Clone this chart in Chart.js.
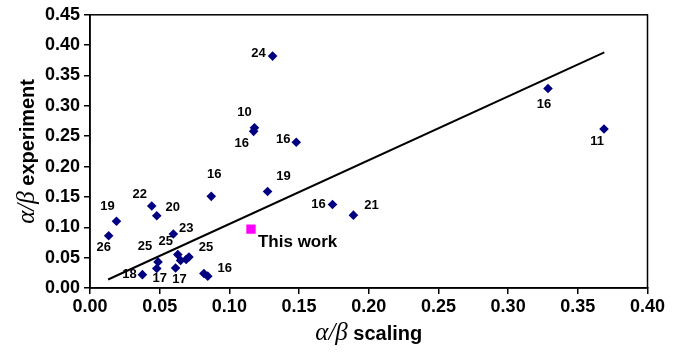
<!DOCTYPE html>
<html><head><meta charset="utf-8">
<script src="https://cdn.jsdelivr.net/npm/chart.js@4/dist/chart.umd.min.js"></script>
<style>html,body{margin:0;padding:0;background:#fff;overflow:hidden}#wrap{width:684px;height:352px}</style>
</head><body><div id="wrap"><canvas id="c" width="684" height="352"></canvas></div>
<script>
// Literature values (alpha/beta scaling vs experiment) with reference numbers
const xScaling = [0.0134, 0.019, 0.0443, 0.0479, 0.087, 0.0598, 0.0488, 0.063, 0.0376, 0.0479, 0.0614, 0.071, 0.0845, 0.065, 0.069, 0.0817, 0.118, 0.1174, 0.148, 0.1274, 0.131, 0.174, 0.189, 0.3286, 0.3688];
const yExperiment = [0.086, 0.110, 0.135, 0.119, 0.151, 0.089, 0.043, 0.055, 0.022, 0.032, 0.033, 0.051, 0.0195, 0.0455, 0.047, 0.024, 0.264, 0.258, 0.240, 0.159, 0.382, 0.1375, 0.120, 0.3286, 0.262];
const refLabels = ['26','19','22','20','16','23','25','25','18','17','17','25','16','','','','10','16','16','19','24','16','21','16','11'];
// label placement relative to marker (px)
const labelDx = [-5,-9,-12,16,3,13,-13,-12,-13,3,4,17,17,0,0,0,-10,-12,-13,16,-14,-14,18,-4,-7];
const labelDy = [12,-15,-12,-8,-22,-6,-15,-13,0,10,11,-10,-8,0,0,0,-15,12,-3,-15,-3,0,-10,16,12];
// This work
const thisWorkX = [0.1155];
const thisWorkY = [0.097];
const thisWorkLabel = 'This work';
// Trend line
const lineX = [0.013, 0.369];
const lineY = [0.014, 0.388];
// Axes
const xTicks = [0, 0.05, 0.10, 0.15, 0.20, 0.25, 0.30, 0.35, 0.40];
const yTicks = [0, 0.05, 0.10, 0.15, 0.20, 0.25, 0.30, 0.35, 0.40, 0.45];
const xTitleSym = 'α/β', xTitleWord = ' scaling';
const yTitleSym = 'α/β', yTitleWord = ' experiment';

const pts = xScaling.map((x, i) => ({x, y: yExperiment[i]}));
const twPts = thisWorkX.map((x, i) => ({x, y: thisWorkY[i]}));
const linePts = lineX.map((x, i) => ({x, y: lineY[i]}));

const decor = {
  id: 'decor',
  afterDatasetsDraw(chart) {
    const ctx = chart.ctx, a = chart.chartArea, sx = chart.scales.x, sy = chart.scales.y;
    ctx.save();
    ctx.strokeStyle = '#000'; ctx.lineWidth = 1.5;
    ctx.strokeRect(a.left, a.top, a.right - a.left, a.bottom - a.top);
    // point labels
    ctx.fillStyle = '#000';
    ctx.font = 'bold 13px "Liberation Sans", Arial, sans-serif';
    ctx.textAlign = 'center'; ctx.textBaseline = 'middle';
    refLabels.forEach((t, i) => {
      if (!t) return;
      const px = sx.getPixelForValue(xScaling[i]), py = sy.getPixelForValue(yExperiment[i]);
      ctx.fillText(t, px + labelDx[i], py + labelDy[i]);
    });
    ctx.font = 'bold 17px "Liberation Sans", Arial, sans-serif';
    ctx.textAlign = 'left';
    ctx.fillText(thisWorkLabel, sx.getPixelForValue(thisWorkX[0]) + 7, sy.getPixelForValue(thisWorkY[0]) + 13);
    // axis titles
    const symFont = 'italic 25px "Liberation Serif", "Times New Roman", serif';
    const wordFont = 'bold 20px "Liberation Sans", Arial, sans-serif';
    function drawTitle(sym, word, cx, cy, rot) {
      ctx.save();
      ctx.translate(cx, cy); ctx.rotate(rot);
      ctx.font = symFont; const w1 = ctx.measureText(sym).width;
      ctx.font = wordFont; const w2 = ctx.measureText(word).width;
      const x0 = -(w1 + w2) / 2;
      ctx.textAlign = 'left'; ctx.textBaseline = 'alphabetic';
      ctx.font = symFont; ctx.fillText(sym, x0, 0);
      ctx.font = wordFont; ctx.fillText(word, x0 + w1, 0);
      ctx.restore();
    }
    drawTitle(xTitleSym, xTitleWord, (a.left + a.right) / 2, 340, 0);
    drawTitle(yTitleSym, yTitleWord, 34, (a.top + a.bottom) / 2, -Math.PI / 2);
    ctx.restore();
  }
};

const tickFont = {family: '"Liberation Sans", Arial, sans-serif', size: 18, weight: 'bold'};
new Chart(document.getElementById('c'), {
  type: 'scatter',
  data: {
    datasets: [
      {type: 'line', data: linePts, borderColor: '#000', borderWidth: 2, pointRadius: 0, fill: false, order: 3},
      {data: pts, pointStyle: 'rectRot', pointRadius: 4.8, pointBackgroundColor: '#000080', pointBorderWidth: 0, order: 2},
      {data: twPts, pointStyle: 'rect', pointRadius: 6.6, pointBackgroundColor: '#FF00FF', pointBorderWidth: 0, order: 1}
    ]
  },
  options: {
    responsive: false, animation: false, devicePixelRatio: 1,
    layout: {padding: {top: 11, right: 36.5, left: 0, bottom: 0}},
    plugins: {legend: {display: false}, tooltip: {enabled: false}},
    scales: {
      x: {
        type: 'linear', min: 0, max: 0.4,
        afterBuildTicks: s => { s.ticks = xTicks.map(v => ({value: v})); },
        afterFit: s => { s.height = 64; },
        ticks: {callback: v => v.toFixed(2), font: tickFont, color: '#000', padding: 2, maxRotation: 0, autoSkip: false},
        grid: {drawOnChartArea: false, drawTicks: true, tickLength: 6, color: '#000', lineWidth: 1.5},
        border: {display: true, color: '#000', width: 1.5}
      },
      y: {
        type: 'linear', min: 0, max: 0.45,
        afterBuildTicks: s => { s.ticks = yTicks.map(v => ({value: v})); },
        afterFit: s => { s.width = 90; },
        ticks: {callback: v => v.toFixed(2), font: tickFont, color: '#000', padding: 4, autoSkip: false},
        grid: {drawOnChartArea: false, drawTicks: true, tickLength: 6, color: '#000', lineWidth: 1.5},
        border: {display: true, color: '#000', width: 1.5}
      }
    }
  },
  plugins: [decor]
});
</script></body></html>
